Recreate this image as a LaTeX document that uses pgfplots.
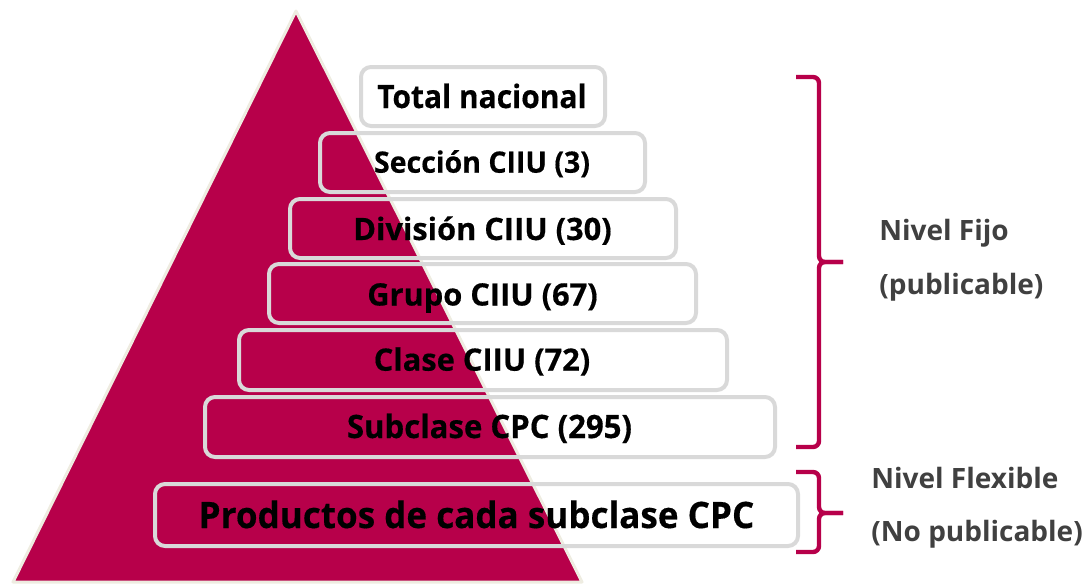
\documentclass[border=0pt]{standalone}
\usepackage{pgfplots}
\pgfplotsset{compat=1.18}
\usepackage{fontspec}
\setmainfont{Open Sans}
\newfontfamily\boxfont{Open Sans}[BoldFeatures={FakeBold=0.4}]
\definecolor{crim}{RGB}{183,0,74}
\definecolor{boxg}{RGB}{217,217,217}
\definecolor{tribd}{RGB}{238,236,225}
\definecolor{lbl}{RGB}{64,64,64}
\newcommand{\bt}[3]{{\fontsize{#1}{#1}\boxfont\bfseries\scalebox{#2}[1]{#3}}}
\newcommand{\rt}[1]{{\fontsize{14}{14}\selectfont\bfseries\color{lbl}#1}}
\begin{document}
\begin{tikzpicture}
\begin{axis}[width=543.5pt,height=292pt,scale only axis,
  xmin=0,xmax=1087,ymin=0,ymax=584,y dir=reverse,hide axis,clip=false]
% pyramid
\addplot[fill=crim,draw=tribd,line width=1.5pt,line join=round] coordinates {(296,11) (582,582) (13,582)} --cycle;
% boxes
\addplot[draw=boxg,line width=2pt,rounded corners=5pt] coordinates {(361,96.5) (361,67) (605,67) (605,126) (361,126) (361,96.5)};
\addplot[draw=boxg,line width=2pt,rounded corners=5pt] coordinates {(320,162.5) (320,133) (645,133) (645,192) (320,192) (320,162.5)};
\addplot[draw=boxg,line width=2pt,rounded corners=5pt] coordinates {(290,228.5) (290,199) (676,199) (676,258) (290,258) (290,228.5)};
\addplot[draw=boxg,line width=2pt,rounded corners=5pt] coordinates {(269,293.5) (269,264) (696,264) (696,323) (269,323) (269,293.5)};
\addplot[draw=boxg,line width=2pt,rounded corners=5pt] coordinates {(239,360) (239,330) (727,330) (727,390) (239,390) (239,360)};
\addplot[draw=boxg,line width=2pt,rounded corners=5pt] coordinates {(205,427) (205,397) (775,397) (775,457) (205,457) (205,427)};
\addplot[draw=boxg,line width=2pt,rounded corners=5pt] coordinates {(155,515) (155,484) (798,484) (798,546) (155,546) (155,515)};
% box texts
\node[anchor=base] at (axis cs:482,108) {\bt{16.1}{0.93}{Total nacional}};
\node[anchor=base] at (axis cs:482,172.7) {\bt{14.7}{0.97}{Sección CIIU (3)}};
\node[anchor=base] at (axis cs:482.5,240) {\bt{15.4}{1.0}{División CIIU (30)}};
\node[anchor=base] at (axis cs:482.5,305.5) {\bt{15.4}{1.0}{Grupo CIIU (67)}};
\node[anchor=base] at (axis cs:482,370.7) {\bt{15.4}{1.0}{Clase CIIU (72)}};
\node[anchor=base] at (axis cs:489.5,438) {\bt{16.1}{0.966}{Subclase CPC (295)}};
\node[anchor=base] at (axis cs:476.5,528) {\bt{18.2}{0.963}{Productos de cada subclase CPC}};
% braces
\addplot[draw=crim,line width=2.2pt,rounded corners=3pt] coordinates {(796,77) (819,77) (819,262) (843,262)};
\addplot[draw=crim,line width=2.2pt,rounded corners=3pt] coordinates {(843,262) (819,262) (819,447) (796,447)};
\addplot[draw=crim,line width=2.2pt,rounded corners=3pt] coordinates {(796,472) (819,472) (819,513) (843,513)};
\addplot[draw=crim,line width=2.2pt,rounded corners=3pt] coordinates {(843,513) (819,513) (819,552) (796,552)};
% right labels
\node[anchor=base west,inner sep=0pt] at (axis cs:879,240) {\rt{Nivel Fijo}};
\node[anchor=base west,inner sep=0pt] at (axis cs:879,294) {\rt{(publicable)}};
\node[anchor=base west,inner sep=0pt] at (axis cs:871,488) {\rt{Nivel Flexible}};
\node[anchor=base west,inner sep=0pt] at (axis cs:871,541) {\rt{(No publicable)}};
\end{axis}
\pgfresetboundingbox
\path (current axis.south west) rectangle (current axis.north east);
\end{tikzpicture}
\end{document}
